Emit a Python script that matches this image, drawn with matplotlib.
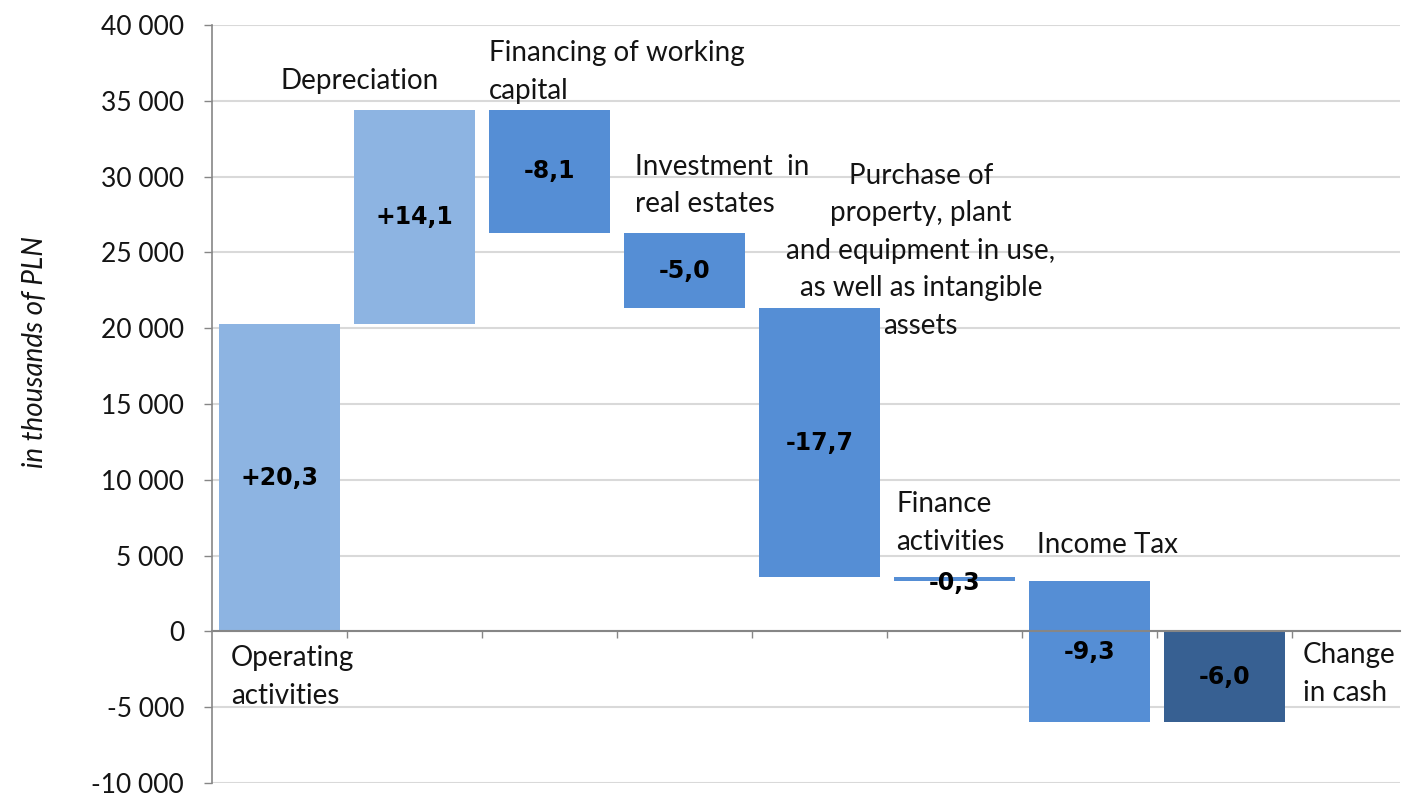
# waterfall_cash.py
# Cash flow waterfall (in thousands of PLN), Excel-like look

import matplotlib
matplotlib.use("Agg")
import matplotlib.pyplot as plt
from matplotlib.ticker import FuncFormatter

# ----------------------------
# Data
# ----------------------------
CATEGORIES = [
    "Operating\nactivities",
    "Depreciation",
    "Financing of working\ncapital",
    "Investment  in\nreal estates",
    "Purchase of\nproperty, plant\nand equipment in use,\nas well as intangible\nassets",
    "Finance\nactivities",
    "Income Tax",
    "Change\nin cash",
]
CHANGES = [20300, 14100, -8100, -5000, -17700, -300, -9300]  # thousands of PLN

Y_TICKS = list(range(-10000, 40001, 5000))

# ----------------------------
# Style
# ----------------------------
C_UP = "#8DB4E2"
C_DOWN = "#558ED5"
C_TOTAL = "#376092"
C_GRID = "#D9D9D9"
C_AXIS = "#868686"
C_TEXT = "#141414"
FONT = ["Lato", "DejaVu Sans"]

plt.rcParams["font.family"] = FONT

# label placement: (x in category units, y in data units, ha)
LABEL_LAYOUT = [
    (-0.36, -3000, "left"),
    (0.59, 36300, "center"),
    (1.55, 36900, "left"),
    (2.63, 29400, "left"),
    (4.75, 25100, "center"),
    (4.57, 7150, "left"),
    (5.61, 5700, "left"),
    (7.58, -2800, "left"),
]


def fmt_thousands(v, _pos):
    return f"{int(round(v)):,}".replace(",", " ")


def fmt_change(v):
    return f"{v / 1000:+.1f}".replace(".", ",")


def main() -> None:
    # waterfall geometry
    bottoms, heights, colors = [], [], []
    run = 0
    for v in CHANGES:
        bottoms.append(run)
        heights.append(v)
        colors.append(C_UP if v > 0 else C_DOWN)
        run += v
    # closing bar: total change in cash
    bottoms.append(0)
    heights.append(run)
    colors.append(C_TOTAL)

    n = len(heights)
    xs = list(range(n))

    fig = plt.figure(figsize=(14.12, 7.95), dpi=100)
    ax = fig.add_axes([212 / 1412, 12 / 795, (1400 - 212) / 1412, (783 - 25) / 795])

    ax.bar(xs, heights, bottom=bottoms, width=0.9, color=colors, zorder=3)

    # value labels
    for x, b, h in zip(xs, bottoms, heights):
        ax.text(x, b + h / 2 - (250 if abs(h) < 1000 else 0), fmt_change(h),
                ha="center", va="center", fontsize=17, fontweight="bold",
                family="DejaVu Sans", color="black", zorder=4)

    # category labels
    for lab, (lx, ly, ha) in zip(CATEGORIES, LABEL_LAYOUT):
        ax.text(lx, ly, lab, ha=ha, va="center", multialignment=ha,
                fontsize=20, color=C_TEXT, linespacing=1.55, zorder=5)

    # axes
    ax.set_ylim(-10000, 40000)
    ax.set_xlim(-0.5, n - 0.5 + 108 / 135)
    ax.set_yticks(Y_TICKS)
    ax.yaxis.set_major_formatter(FuncFormatter(fmt_thousands))
    ax.set_xticks([i + 0.5 for i in range(n)])
    ax.set_xticklabels([])

    ax.grid(axis="y", color=C_GRID, linewidth=1.5, zorder=0)
    ax.set_axisbelow(True)

    for s in ("top", "right"):
        ax.spines[s].set_visible(False)
    ax.spines["left"].set_color(C_AXIS)
    ax.spines["left"].set_linewidth(1.2)
    ax.spines["bottom"].set_position(("data", 0))
    ax.spines["bottom"].set_color(C_AXIS)
    ax.spines["bottom"].set_linewidth(1.5)
    ax.spines["bottom"].set_zorder(3.5)

    ax.tick_params(axis="y", direction="out", length=6, width=1, color=C_AXIS,
                   pad=14, labelsize=19, labelcolor=C_TEXT)
    ax.tick_params(axis="x", direction="out", length=5, width=1, color=C_AXIS)

    fig.text(35 / 1412, 1 - 352 / 795, "in thousands of PLN", rotation=90,
             ha="center", va="center", fontsize=20, style="italic", color=C_TEXT)

    fig.savefig("out.png", dpi=100)


if __name__ == "__main__":
    main()
